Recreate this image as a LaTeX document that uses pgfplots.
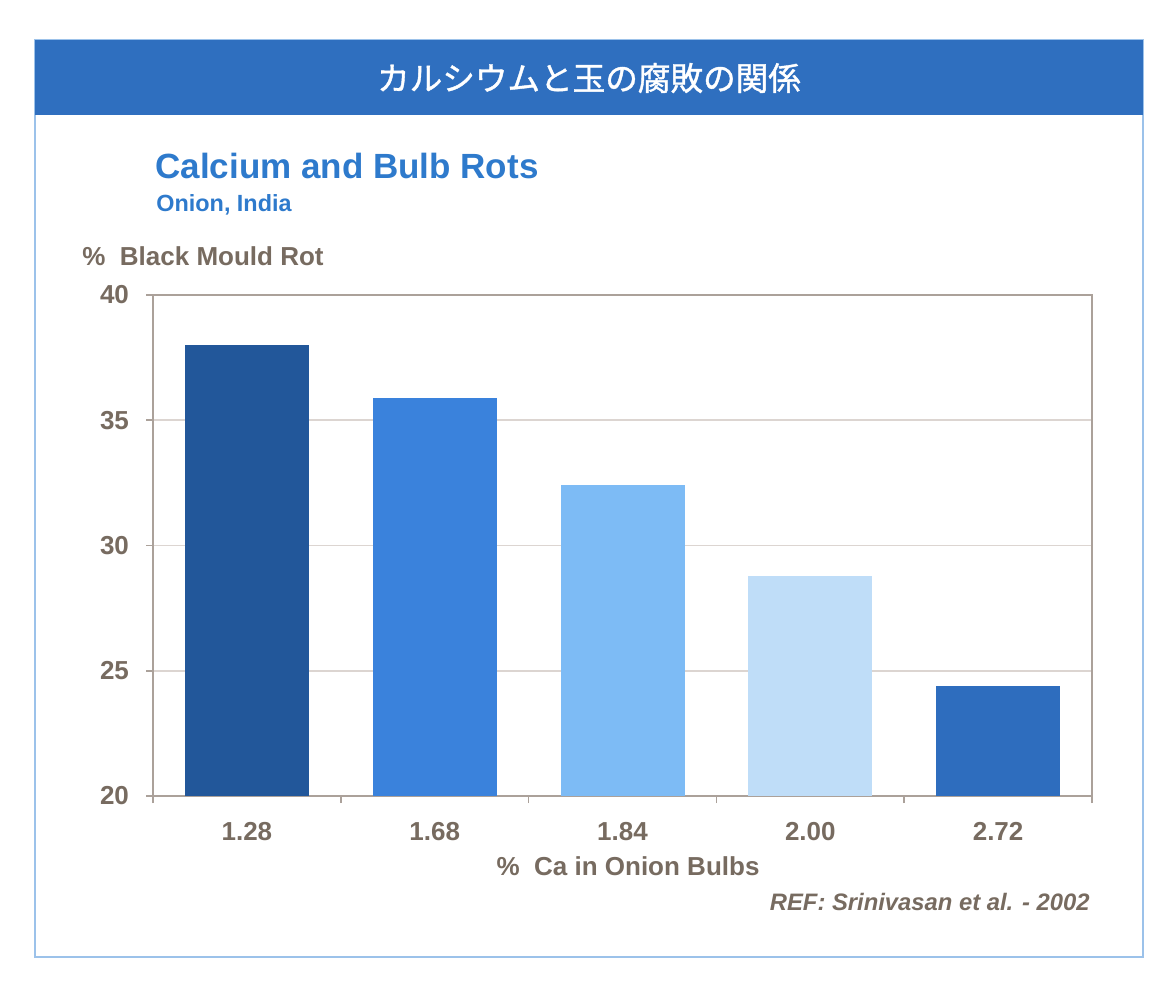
\documentclass[border=0pt]{standalone}
\usepackage{pgfplots}
\pgfplotsset{compat=1.18}
\usepackage{fontspec}
\setmainfont{Liberation Sans}
\newfontfamily\cjk[FakeBold=1.2]{Noto Sans CJK JP}
\definecolor{banner}{HTML}{2F6FBF}
\definecolor{frameblue}{HTML}{9CC2EA}
\definecolor{titleblue}{HTML}{2E7ACC}
\definecolor{txtgray}{HTML}{776B60}
\definecolor{axgray}{HTML}{ABA19A}
\definecolor{gridgray}{HTML}{DCD5D1}
\definecolor{b1}{HTML}{22579A}
\definecolor{b2}{HTML}{3A82DC}
\definecolor{b3}{HTML}{7DBBF5}
\definecolor{b4}{HTML}{BFDDF8}
\definecolor{b5}{HTML}{2E6DBE}
\begin{document}
\begin{tikzpicture}
\begin{scope}[x=0.5pt,y=-0.5pt]
  \fill[white] (0,0) rectangle (1172,992);
  \draw[frameblue, line width=1pt] (35,40) rectangle (1143,957);
  \fill[banner] (35,40) rectangle (1143,115);
  \node[text=white, font=\cjk\fontsize{16.3}{19}\selectfont] at (589,78) {カルシウムと玉の腐敗の関係};
  \node[anchor=base west, inner sep=0pt, text=titleblue, font=\bfseries\fontsize{17.5}{20}\selectfont] at (155,178) {Calcium and Bulb Rots};
  \node[anchor=base west, inner sep=0pt, text=titleblue, font=\bfseries\fontsize{11.7}{14}\selectfont] at (156,211) {Onion, India};
  \node[anchor=base west, inner sep=0pt, text=txtgray, font=\bfseries\fontsize{13}{15}\selectfont] at (82,265) {\%\ \ Black Mould Rot};
  \node[anchor=base, inner sep=0pt, text=txtgray, font=\bfseries\fontsize{13}{15}\selectfont] at (628,875) {\%\ \ Ca in Onion Bulbs};
  \node[anchor=base east, inner sep=0pt, text=txtgray, font=\bfseries\itshape\fontsize{11.9}{14}\selectfont] at (1090,910) {REF: Srinivasan et al. - 2002};
\end{scope}
\begin{axis}[
  at={(76.5pt,-398pt)}, anchor=south west,
  scale only axis, width=469.5pt, height=250.5pt,
  xmin=-0.5, xmax=4.5, ymin=20, ymax=40,
  ybar, bar width=62pt, bar shift=0pt,
  xtick={0,1,2,3,4},
  xticklabels={1.28,1.68,1.84,2.00,2.72},
  minor xtick={-0.5,0.5,1.5,2.5,3.5,4.5},
  ytick={20,25,30,35,40},
  yticklabels={20,25,30,35,40},
  tick align=outside,
  xtick pos=bottom, ytick pos=left,
  major x tick style={draw=none},
  major tick length=3.5pt, minor tick length=3.5pt,
  tick style={axgray, line width=0.8pt},
  axis line style={axgray, line width=1pt},
  ymajorgrids, grid style={gridgray, line width=0.8pt},
  ticklabel style={text=txtgray, font=\bfseries\fontsize{13}{15}\selectfont},
  xticklabel style={yshift=-6pt},
  yticklabel style={xshift=-5pt},
]
\addplot[fill=b1, draw=none] coordinates {(0,38.0)};
\addplot[fill=b2, draw=none] coordinates {(1,35.9)};
\addplot[fill=b3, draw=none] coordinates {(2,32.4)};
\addplot[fill=b4, draw=none] coordinates {(3,28.8)};
\addplot[fill=b5, draw=none] coordinates {(4,24.4)};
\end{axis}
\end{tikzpicture}
\end{document}
